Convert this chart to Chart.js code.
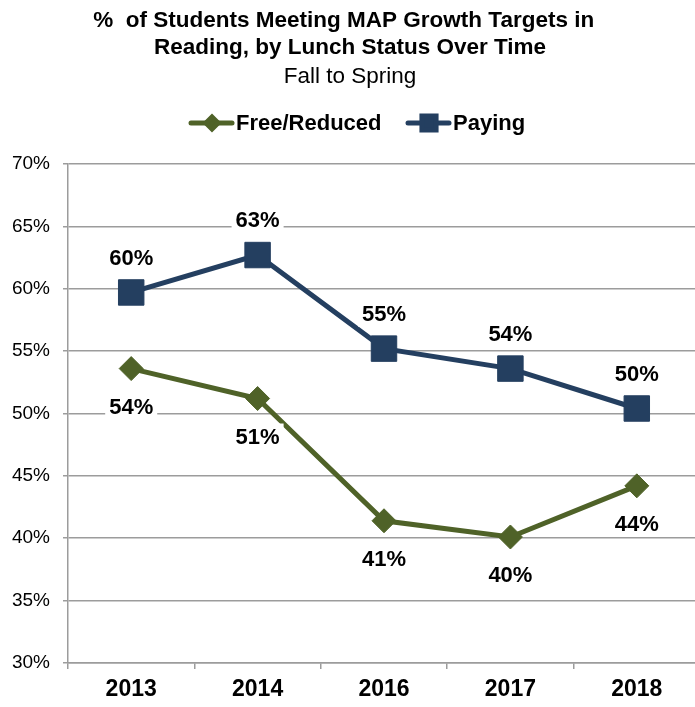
<!DOCTYPE html>
<html>
<head>
<meta charset="utf-8">
<script src="https://cdn.jsdelivr.net/npm/chart.js@4/dist/chart.umd.min.js"></script>
<style>
  html, body { margin: 0; background: #fff; overflow: hidden; }
  #chart { display: block; }
</style>
</head>
<body>
<canvas id="chart" width="700" height="707"></canvas>
<script>
/************** DATA **************/
const years = ["2013", "2014", "2016", "2017", "2018"];
const freeReduced = [53.6, 51.2, 41.4, 40.1, 44.2];
const paying = [59.7, 62.7, 55.2, 53.6, 50.4];
const yTicks = { min: 30, max: 70, step: 5 };

const FONT = "'Liberation Sans', Arial, sans-serif";
const GREEN = "#4f6228";
const NAVY = "#243f60";
const GRID = "#9c9c9c";

/************** PLUGINS **************/
// value labels with a white box behind them
const valueLabels = {
  id: "valueLabels",
  afterDatasetsDraw(chart) {
    const ctx = chart.ctx;
    ctx.save();
    ctx.font = "bold 22px " + FONT;
    ctx.textAlign = "center";
    ctx.textBaseline = "middle";
    chart.data.datasets.forEach((ds, di) => {
      const meta = chart.getDatasetMeta(di);
      meta.data.forEach((pt, i) => {
        const txt = Math.round(ds.data[i]) + "%";
        const y = pt.y + ds.labelOffset;
        const w = ctx.measureText(txt).width + 8;
        ctx.fillStyle = "#fff";
        ctx.fillRect(pt.x - w / 2, y - 13, w, 26);
        ctx.fillStyle = "#000";
        ctx.fillText(txt, pt.x, y + 1);
      });
    });
    ctx.restore();
  }
};

// legend: line with marker + bold text
const lineLegend = {
  id: "lineLegend",
  afterDraw(chart) {
    const ctx = chart.ctx;
    const items = [
      { x: 190, r: 6, ds: chart.data.datasets[0] },
      { x: 407, r: 10, ds: chart.data.datasets[1] }
    ];
    const y = 123;
    ctx.save();
    ctx.font = "bold 22px " + FONT;
    ctx.textBaseline = "middle";
    items.forEach(it => {
      ctx.strokeStyle = it.ds.borderColor;
      ctx.lineWidth = 5;
      ctx.lineCap = "round";
      ctx.beginPath();
      ctx.moveTo(it.x + 1, y);
      ctx.lineTo(it.x + 42, y);
      ctx.stroke();
      ctx.fillStyle = it.ds.borderColor;
      Chart.helpers.drawPoint(ctx, {
        pointStyle: it.ds.pointStyle,
        radius: it.r,
        borderWidth: 1
      }, it.x + 22, y);
      ctx.fillStyle = "#000";
      ctx.fillText(it.ds.label, it.x + 46, y + 1);
    });
    ctx.restore();
  }
};

/************** CHART **************/
const ctx = document.getElementById("chart").getContext("2d");

new Chart(ctx, {
  type: "line",
  data: {
    labels: years,
    datasets: [
      {
        label: "Free/Reduced",
        data: freeReduced,
        borderColor: GREEN,
        backgroundColor: GREEN,
        borderWidth: 5,
        pointStyle: "rectRot",
        pointRadius: 12,
        pointBorderWidth: 1,
        labelOffset: 38,
        tension: 0
      },
      {
        label: "Paying",
        data: paying,
        borderColor: NAVY,
        backgroundColor: NAVY,
        borderWidth: 5,
        pointStyle: "rect",
        pointRadius: 18,
        pointBorderWidth: 1,
        labelOffset: -35,
        tension: 0
      }
    ]
  },
  options: {
    responsive: false,
    animation: false,
    layout: { autoPadding: false, padding: { left: 0, right: 0, bottom: 3 } },
    plugins: {
      legend: { display: false },
      tooltip: { enabled: false },
      title: {
        display: true,
        text: ["%  of Students Meeting MAP Growth Targets in  ", "Reading, by Lunch Status Over Time"],
        color: "#000",
        font: { family: FONT, size: 22.5, weight: "bold", lineHeight: 1.18 },
        padding: { top: 8, bottom: 0 }
      },
      subtitle: {
        display: true,
        text: "Fall to Spring",
        color: "#000",
        font: { family: FONT, size: 22.5, lineHeight: 1.15 },
        padding: { top: 3, bottom: 74 }
      }
    },
    scales: {
      x: {
        offset: true,
        afterFit(scale) {
          scale.paddingLeft = 0;
          scale.paddingRight = 0;
          scale.height = 41;
        },
        grid: {
          offset: true,
          drawOnChartArea: false,
          color: GRID,
          lineWidth: 1.5,
          tickLength: 6
        },
        border: { color: GRID, width: 1.5 },
        ticks: {
          color: "#000",
          font: { family: FONT, size: 23, weight: "bold" },
          padding: 7
        }
      },
      y: {
        min: yTicks.min,
        max: yTicks.max,
        afterFit(scale) {
          scale.width = 68;
          scale.paddingTop = 0;
          scale.paddingBottom = 0;
        },
        grid: { color: GRID, lineWidth: 1.5, tickLength: 5 },
        border: { color: GRID, width: 1.5 },
        ticks: {
          stepSize: yTicks.step,
          color: "#000",
          font: { family: FONT, size: 19 },
          padding: 13,
          callback: v => v + "%"
        }
      }
    }
  },
  plugins: [valueLabels, lineLegend]
});
</script>
</body>
</html>
